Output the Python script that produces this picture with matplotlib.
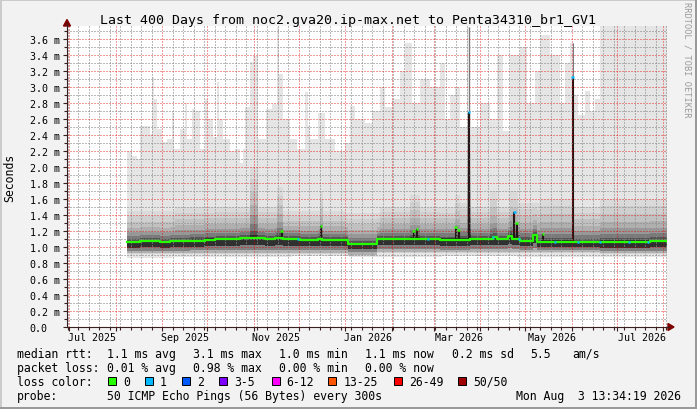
import datetime as dt

import matplotlib
matplotlib.use('Agg')
import matplotlib.pyplot as plt
import numpy as np
from matplotlib.lines import Line2D
from matplotlib.patches import Polygon, Rectangle

W, H = 697, 410
START = dt.datetime(2025, 6, 29, 13, 34, 19)
SPAN = 400  # days shown

# smoke ceiling (slowest ping), step starts in days since START, values in ms
max_days = [39.8, 43.1, 46.5, 48.7, 55.3, 56.7, 58.0, 60.0, 63.3, 66.7, 70.0, 71.3,
            75.3, 78.7, 80.0, 83.3, 85.3, 88.7, 92.0, 94.0, 97.3, 100.0, 101.3, 104.0,
            108.7, 112.0, 115.3, 117.0, 118.7, 122.0, 124.0, 127.3, 132.7, 136.7, 140.0,
            141.3, 144.0, 148.7, 153.3, 158.7, 160.7, 162.0, 167.3, 172.0, 178.7, 185.3,
            188.7, 192.0, 198.7, 203.3, 208.7, 212.0, 216.7, 222.0, 225.3, 230.0, 235.3,
            242.0, 248.7, 252.0, 255.3, 258.7, 262.0, 266.7, 269.3, 275.3, 282.0, 286.7,
            290.7, 295.3, 302.0, 306.7, 312.0, 315.3, 322.0, 328.7, 332.0, 335.3, 338.0,
            340.7, 345.3, 348.7, 352.0, 355.3]
max_rtt = [2.20, 2.14, 2.10, 2.51, 2.41, 3.12, 2.85, 2.47, 2.31, 2.35, 2.70, 2.22,
           2.47, 2.80, 2.35, 2.72, 2.70, 2.22, 2.85, 2.60, 2.37, 3.06, 2.60, 2.35,
           2.20, 2.22, 2.05, 2.22, 2.75, 3.31, 3.39, 2.35, 2.72, 2.79, 3.75,
           3.16, 2.60, 2.35, 2.22, 2.94, 2.51, 2.35, 2.68, 2.35, 2.20, 2.30,
           2.76, 2.60, 2.55, 2.70, 3.00, 2.75, 2.85, 3.20, 3.55, 2.80, 3.10,
           3.00, 3.30, 2.60, 2.90, 3.00, 2.50, 3.75, 2.50, 2.80, 2.60, 3.40,
           2.45, 3.40, 3.50, 2.80, 3.20, 3.65, 3.40, 2.80, 3.30, 3.55, 2.90,
           2.65, 2.95, 2.70, 2.85, 3.80]

# median rtt
med_days = [39.8, 48.7, 62.0, 68.7, 82.0, 92.0, 98.7, 115.3, 132.0, 138.7, 144.0, 155.3,
            167.3, 170.0, 187.3, 206.7, 248.7, 268.7, 284.0, 286.7, 294.0, 296.7, 302.0,
            310.7, 313.3, 388.7]
med_rtt = [1.06, 1.07, 1.06, 1.07, 1.08, 1.09, 1.10, 1.11, 1.10, 1.11, 1.10, 1.09,
           1.10, 1.09, 1.04, 1.10, 1.09, 1.10, 1.12, 1.10, 1.14, 1.10, 1.08,
           1.15, 1.06, 1.07]

# upper edge of the dense part of the smoke
hi_days = [39.8, 71.7, 122.0, 127.3, 140.0, 144.0, 168.7, 170.7, 185.3, 208.7, 228.7,
           235.3, 258.7, 262.0, 266.7, 269.3, 282.0, 286.7, 295.3, 300.7, 315.3, 338.0, 355.3]
hi_rtt = [1.45, 1.50, 2.00, 1.50, 1.75, 1.45, 1.70, 1.45, 1.42, 1.50, 1.65,
          1.50, 1.65, 1.55, 2.40, 1.50, 1.70, 1.50, 1.70, 1.55, 1.60, 1.50, 1.60]

# lower edge of the dense part, and fastest ping
lo_days = [39.8, 187.3, 206.7, 355.3]
lo_rtt = [0.91, 0.89, 0.92, 0.91]
min_days = [39.8, 70.0, 110.0, 150.0, 188.0, 250.0, 300.0, 355.3]
min_rtt = [0.86, 0.87, 0.88, 0.89, 0.88, 0.89, 0.88, 0.87]

# short bursts where the median jumped
spike_days = [143.1, 169.3, 231.0, 233.3, 259.0, 261.0, 268.0, 298.3, 299.7, 317.3, 337.0]
spike_top = [1.20, 1.26, 1.20, 1.23, 1.25, 1.21, 2.69, 1.44, 1.30, 1.16, 3.12]
spike_tail = [1.20, 1.26, 1.20, 1.23, 1.25, 1.21, 3.75, 1.44, 1.30, 1.16, 3.55]
spike_loss = [0, 0, 0, 0, 0, 0, 1, 1, 0, 0, 1]

# median samples with 1 of 50 pings lost
loss1_days = [154.0, 240.7, 284.0, 301.3, 325.3, 340.7, 355.3, 374.7, 387.3]

loss_labels = ['0', '1', '2', '3-5', '6-12', '13-25', '26-49', '50/50']
loss_colors = ['#26ff00', '#00b8ff', '#0059ff', '#7e00ff', '#ff00ff', '#ff5500', '#ff0000', '#a10000']

month_labels = ['Jul 2025', 'Sep 2025', 'Nov 2025', 'Jan 2026', 'Mar 2026', 'May 2026', 'Jul 2026']
label_dates = [dt.datetime(2025, 7, 16), dt.datetime(2025, 9, 16), dt.datetime(2025, 11, 16),
               dt.datetime(2026, 1, 16), dt.datetime(2026, 3, 18), dt.datetime(2026, 5, 19),
               dt.datetime(2026, 7, 18)]

stats_rtt = ['1.1 ms avg', '3.1 ms max', '1.0 ms min', '1.1 ms now', '0.2 ms sd', '5.5', 'am/s']
stats_loss = ['0.01 % avg', '0.98 % max', '0.00 % min', '0.00 % now']


def day(ts):
    return (ts - START).total_seconds() / 86400


def P(x, y):
    # pixel position (top-left origin) -> figure fraction
    return x / W, 1 - y / H


MONO = 'DejaVu Sans Mono'

fig = plt.figure(figsize=(W / 100, H / 100), dpi=100, facecolor='#f2f2f2')
ax = fig.add_axes([67 / W, 82 / H, 600 / W, 301 / H], facecolor='white')
ax.set_xlim(0, SPAN)
ax.set_ylim(0, 301 / 80)

grid = np.unique(np.concatenate([max_days, med_days, hi_days, lo_days, min_days, [SPAN]]))


def on_grid(days, vals):
    idx = np.searchsorted(days, grid, side='right') - 1
    return np.asarray(vals, dtype=float)[np.clip(idx, 0, len(vals) - 1)]


top = on_grid(max_days, max_rtt)
bot = on_grid(min_days, min_rtt)
med = on_grid(med_days, med_rtt)
hi = on_grid(hi_days, hi_rtt)
lo = on_grid(lo_days, lo_rtt)

# smoke
ax.fill_between(grid, bot, top, step='post', color='#e5e5e5', lw=0, antialiased=False, zorder=1)
up_frac = [0, 0.04, 0.1, 0.2, 0.32, 0.47, 0.65, 0.83, 1.0]
up_grey = ['#2c2c2c', '#555555', '#7a7a7a', '#989898', '#afafaf', '#c1c1c1', '#cfcfcf', '#dadada']
for f0, f1, c in zip(up_frac[:-1], up_frac[1:], up_grey):
    ax.fill_between(grid, med + (hi - med) * f0, med + (hi - med) * f1, step='post',
                    color=c, lw=0, antialiased=False, zorder=1.2)
dn_frac = [0, 0.45, 0.72, 0.9, 1.0]
dn_grey = ['#303030', '#808080', '#b0b0b0', '#d2d2d2']
for f0, f1, c in zip(dn_frac[:-1], dn_frac[1:], dn_grey):
    ax.fill_between(grid, med - (med - lo) * f0, med - (med - lo) * f1, step='post',
                    color=c, lw=0, antialiased=False, zorder=1.2)

# spikes
spike_base = np.interp(spike_days, grid, med)
ax.vlines(spike_days, spike_top, spike_tail, color='#7a7a7a', lw=0.72, zorder=1.5)
ax.vlines(spike_days, spike_base, spike_top, color='#241616', lw=1.5, zorder=1.6)

# grid (on top of the smoke, like rrdtool)
month_days = [day(dt.datetime(2025 + (6 + i) // 12, (6 + i) % 12 + 1, 1)) for i in range(14)]
mondays = np.arange(day(dt.datetime(2025, 6, 30)), SPAN, 7)
ax.set_xticks(month_days)
ax.set_xticks(mondays, minor=True)
ax.set_yticks(np.arange(0, 3.61, 0.2))
ax.set_yticks(np.arange(0, 3.71, 0.1), minor=True)
ax.set_axisbelow(False)
ax.grid(which='minor', color='#8c8c8c', alpha=0.6, lw=1, ls=(0, (1, 1)), antialiased=False)
ax.grid(which='major', color='#e00000', alpha=0.4, lw=1, ls=(0, (1, 1)), antialiased=False)

# median line coloured by loss
ax.step(grid[grid >= med_days[0]], med[grid >= med_days[0]], where='post',
        color=loss_colors[0], lw=1.6, zorder=4)
loss1_rtt = med[np.searchsorted(grid, loss1_days, side='right') - 1]
ax.hlines(loss1_rtt, np.array(loss1_days) - 0.8, np.array(loss1_days) + 0.8,
          color=loss_colors[1], lw=1.8, zorder=5)
ax.hlines(spike_top, np.array(spike_days) - 0.8, np.array(spike_days) + 0.8,
          color=[loss_colors[k] for k in spike_loss], lw=1.8, zorder=5)

# axes decoration
for s in ax.spines.values():
    s.set_visible(False)
ax.set_xticklabels([])
ax.tick_params(axis='x', which='major', direction='out', length=3, color='#3c2020', width=0.8)
ax.tick_params(axis='x', which='minor', direction='out', length=2, color='#3c2020', width=0.8)
ax.tick_params(axis='y', which='major', direction='out', length=3, color='#3c2020', width=0.8,
               pad=24, labelsize=7.2)
ax.tick_params(axis='y', which='minor', direction='out', length=2, color='#3c2020', width=0.8)
ax.set_yticklabels(['0.0' if v < 0.01 else f'{v:.1f} m' for v in np.arange(0, 3.61, 0.2)],
                   family=MONO, ha='left')
for d, lab in zip(label_dates, month_labels):
    ax.text(day(d), -13 / 301, lab, transform=ax.get_xaxis_transform(), ha='center',
            va='baseline', family=MONO, fontsize=7.2)

fig.add_artist(Line2D([67 / W, 67 / W], [P(0, 328)[1], P(0, 24)[1]], color='#3c2020', lw=0.8))
fig.add_artist(Line2D([67 / W, 669 / W], [P(0, 328)[1]] * 2, color='#3c2020', lw=0.8))
fig.add_artist(Polygon([P(63.5, 27), P(70.5, 27), P(67, 20.5)], closed=True, color='#7f0000'))
fig.add_artist(Polygon([P(668, 324.5), P(668, 331.5), P(674, 328)], closed=True, color='#7f0000'))

# frame
fig.add_artist(Rectangle(P(0, 410), 2 / W, 1, color='#cbcbcb', lw=0))
fig.add_artist(Rectangle(P(0, 2), 1, 2 / H, color='#cbcbcb', lw=0))
fig.add_artist(Rectangle(P(695, 410), 2 / W, 1, color='#999999', lw=0))
fig.add_artist(Rectangle(P(0, 410), 1, 2 / H, color='#999999', lw=0))

# texts
fig.text(*P(348.5, 24), 'Last 400 Days from noc2.gva20.ip-max.net to Penta34310_br1_GV1',
         ha='center', va='baseline', family=MONO, fontsize=9.5)
fig.text(*P(10, 177.5), 'Seconds', rotation=90, ha='center', va='center', family=MONO, fontsize=8.3)
fig.text(*P(687.5, 60), 'RRDTOOL / TOBI OETIKER', rotation=270, ha='center', va='center',
         family=MONO, fontsize=6.2, color='#9a9a9a')

leg = dict(family=MONO, fontsize=8.3, va='baseline', ha='left')
fig.text(*P(16.7, 358), 'median rtt:', **leg)
for x, s in zip([107.3, 193.3, 279.3, 365, 451.7, 530, 572.7], stats_rtt):
    fig.text(*P(x, 358), s, **leg)
fig.text(*P(16.7, 372), 'packet loss:', **leg)
for x, s in zip([107.3, 193.3, 279.3, 365], stats_loss):
    fig.text(*P(x, 372), s, **leg)
fig.text(*P(16.7, 386), 'loss color:', **leg)
box_x = [108.3, 145, 181.7, 219.3, 271.7, 328.3, 393.7, 458.3]
for bx, lab, c in zip(box_x, loss_labels, loss_colors):
    fig.add_artist(Rectangle(P(bx, 386), 8 / W, 8 / H, facecolor=c, edgecolor='black', lw=0.7))
    fig.text(*P(bx + 15, 386), lab, **leg)
fig.text(*P(16.7, 400), 'probe:', **leg)
fig.text(*P(107.3, 400), '50 ICMP Echo Pings (56 Bytes) every 300s', **leg)
fig.text(*P(681, 400), 'Mon Aug  3 13:34:19 2026', family=MONO, fontsize=8.3, va='baseline', ha='right')

fig.savefig('out.png', dpi=100, facecolor=fig.get_facecolor())
